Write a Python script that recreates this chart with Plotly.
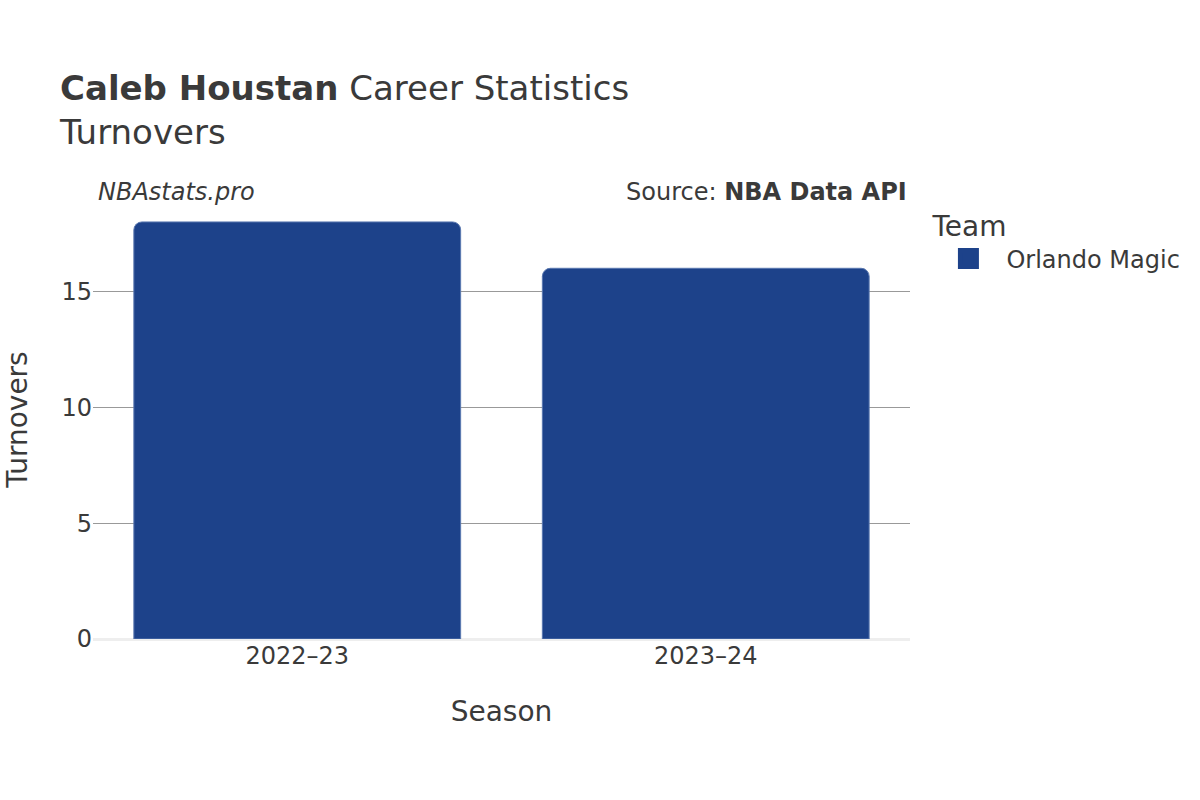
import plotly.graph_objects as go

seasons = ["2022–23", "2023–24"]
turnovers = [18, 16]
team = "Orlando Magic"
bar_color = "#1d428a"

FONT = "DejaVu Sans"
TXT = "#3a3a3a"

fig = go.Figure()
fig.add_trace(go.Bar(
    x=seasons, y=turnovers, name=team,
    marker=dict(color=bar_color, line=dict(color="#5a78b0", width=1), cornerradius=8),
    showlegend=False,
))
# legend entry (larger swatch than the default bar icon)
fig.add_trace(go.Scatter(
    x=[None], y=[None], name=team, mode="markers",
    marker=dict(symbol="square", size=16, color=bar_color, line=dict(color=bar_color, width=5)),
    showlegend=True,
))

fig.update_layout(
    width=1200, height=800,
    paper_bgcolor="white", plot_bgcolor="white",
    font=dict(family=FONT, color=TXT, size=24),
    margin=dict(l=93, r=290, t=200, b=161),
    bargap=0.2,
    title=dict(
        text="<b>Caleb Houstan</b> Career Statistics<br>Turnovers",
        x=0.05, xanchor="left", y=0.875, yanchor="top",
        font=dict(size=34, family=FONT, color=TXT),
    ),
    xaxis=dict(
        title=dict(text="Season", font=dict(size=28), standoff=32),
        tickfont=dict(size=24), showgrid=False, showline=False, ticks="",
        automargin=False,
    ),
    yaxis=dict(
        title=dict(text="Turnovers", font=dict(size=28), standoff=25),
        tickfont=dict(size=24), showgrid=True, gridcolor="#999999", gridwidth=1,
        zeroline=True, zerolinecolor="#eeeeee", zerolinewidth=3,
        tickvals=[0, 5, 10, 15], automargin=False,
    ),
    legend=dict(
        title=dict(text="Team", font=dict(size=28)),
        font=dict(size=24), x=1.025, xanchor="left", y=1.0, yanchor="top",
        itemwidth=66, tracegroupgap=0,
    ),
    annotations=[
        dict(text="<i>NBAstats.pro</i>", xref="paper", yref="paper", x=0.004, y=1.018,
             xanchor="left", yanchor="middle", showarrow=False, font=dict(size=24)),
        dict(text="Source: <b>NBA Data API</b>", xref="paper", yref="paper", x=0.999, y=1.018,
             xanchor="right", yanchor="middle", showarrow=False, font=dict(size=24)),
    ],
)

fig.write_html("out.html")
